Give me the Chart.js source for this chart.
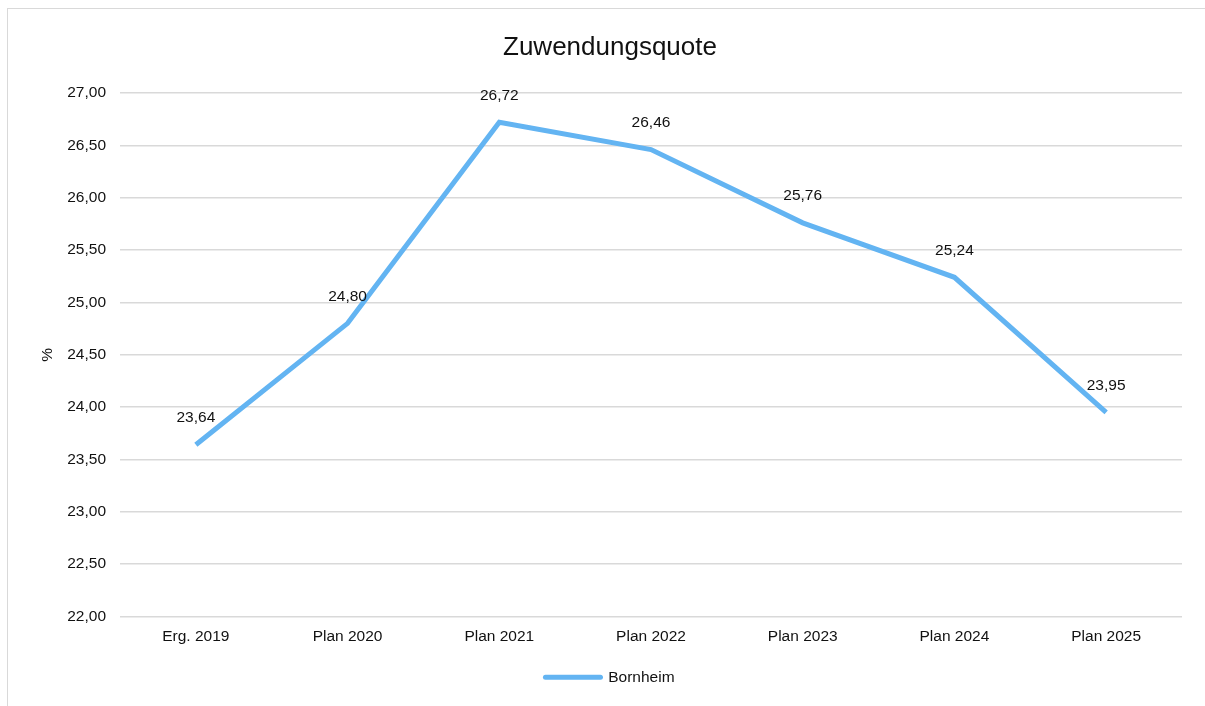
<!DOCTYPE html>
<html lang="de">
<head>
    <meta charset="UTF-8">
    <title>Zuwendungsquote</title>
    <style>
        body {
            margin: 0;
            padding: 0;
            background: #ffffff;
            overflow: hidden;
            font-family: "Liberation Sans", Arial, sans-serif;
        }
        .frame {
            position: absolute;
            left: 7px;
            top: 8px;
            width: 1300px;
            height: 800px;
            border: 1px solid #d9d9d9;
        }
        .chart-box {
            position: absolute;
            left: 0;
            top: 0;
            width: 1205px;
            height: 706px;
        }
    </style>
    <script src="https://cdn.jsdelivr.net/npm/chart.js"></script>
</head>
<body>
    <div class="frame"></div>
    <div class="chart-box">
        <canvas id="quoteChart"></canvas>
    </div>

    <script>
        const categories = ['Erg. 2019', 'Plan 2020', 'Plan 2021', 'Plan 2022', 'Plan 2023', 'Plan 2024', 'Plan 2025'];
        const bornheim = [23.64, 24.80, 26.72, 26.46, 25.76, 25.24, 23.95];
        const seriesName = 'Bornheim';

        const fontFamily = '"Liberation Sans", Arial, sans-serif';
        const textColor = '#111111';
        const lineColor = '#63b4f2';

        function fmt(v) {
            return v.toFixed(2).replace('.', ',');
        }

        // value labels above every point
        const valueLabels = {
            id: 'valueLabels',
            afterDatasetsDraw(chart) {
                const ctx = chart.ctx;
                const meta = chart.getDatasetMeta(0);
                ctx.save();
                ctx.font = '15.5px ' + fontFamily;
                ctx.fillStyle = textColor;
                ctx.textAlign = 'center';
                ctx.textBaseline = 'middle';
                meta.data.forEach((pt, i) => {
                    ctx.fillText(fmt(bornheim[i]), pt.x, pt.y - 27);
                });
                ctx.restore();
            }
        };

        const ctx = document.getElementById('quoteChart').getContext('2d');
        new Chart(ctx, {
            type: 'line',
            data: {
                labels: categories,
                datasets: [{
                    label: seriesName,
                    data: bornheim,
                    borderColor: lineColor,
                    backgroundColor: lineColor,
                    borderWidth: 5,
                    pointRadius: 0,
                    pointHoverRadius: 0,
                    tension: 0,
                    fill: false
                }]
            },
            options: {
                responsive: true,
                maintainAspectRatio: false,
                animation: false,
                layout: {
                    padding: { left: 38, right: 23, top: 0, bottom: 11 }
                },
                plugins: {
                    title: {
                        display: true,
                        text: 'Zuwendungsquote',
                        color: textColor,
                        font: { family: fontFamily, size: 26, weight: 'normal' },
                        padding: { top: 32.4, bottom: 29.4 }
                    },
                    legend: {
                        position: 'bottom',
                        labels: {
                            color: textColor,
                            font: { family: fontFamily, size: 15.5 },
                            usePointStyle: true,
                            pointStyle: 'line',
                            pointStyleWidth: 55,
                            boxHeight: 14,
                            generateLabels(chart) {
                                const items = Chart.defaults.plugins.legend.labels.generateLabels(chart);
                                items.forEach(it => { it.lineCap = 'round'; });
                                return items;
                            }
                        }
                    },
                    tooltip: { enabled: false }
                },
                scales: {
                    x: {
                        offset: true,
                        grid: { display: false, drawTicks: false },
                        border: { display: false },
                        ticks: {
                            color: textColor,
                            font: { family: fontFamily, size: 15.5 },
                            padding: 11
                        },
                        afterFit(scale) { scale.height = 43; }
                    },
                    y: {
                        min: 22,
                        max: 27,
                        grid: { color: '#d9d9d9', lineWidth: 1.5, drawTicks: false },
                        border: { display: false },
                        ticks: {
                            stepSize: 0.5,
                            color: textColor,
                            font: { family: fontFamily, size: 15.5 },
                            padding: 14,
                            callback: (v) => fmt(v)
                        },
                        title: {
                            display: true,
                            text: '%',
                            color: textColor,
                            font: { family: fontFamily, size: 15.5 },
                            padding: 0
                        },
                        afterFit(scale) { scale.width = 82; }
                    }
                }
            },
            plugins: [valueLabels]
        });
    </script>
</body>
</html>
